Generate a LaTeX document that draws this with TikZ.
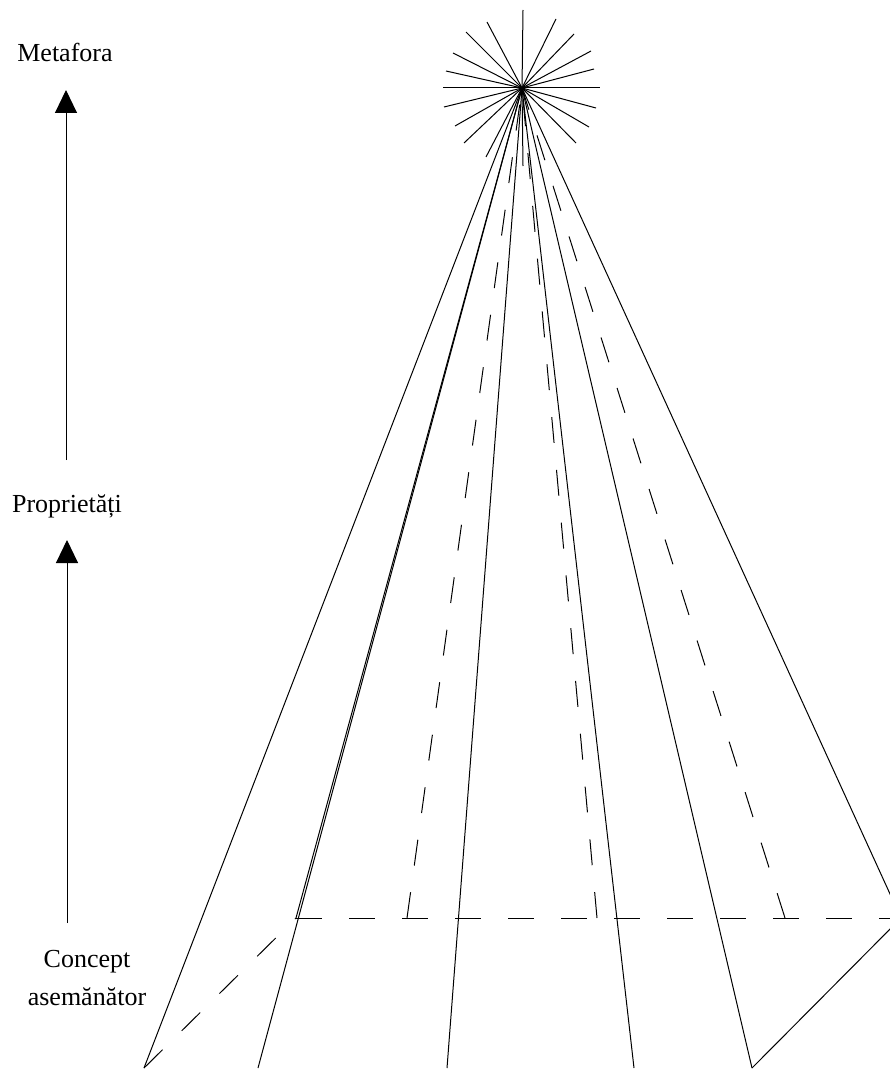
\documentclass[tikz,border=0pt]{standalone}
\usepackage{fontspec}
\setmainfont{Liberation Serif}
\usetikzlibrary{arrows.meta}
\tikzset{
  ln/.style={line width=1pt, black},
  dsh/.style={line width=1pt, black, dash pattern=on 26pt off 27pt},
  lbl/.style={font=\fontsize{26}{30}\selectfont, inner sep=0pt, anchor=base},
  uparrow/.style={line width=1pt, -{Triangle[length=23pt,width=22pt]}}
}
\begin{document}
\begin{tikzpicture}[x=1pt,y=-1pt]
\useasboundingbox (0,0) rectangle (890,1070);
\clip (0,0) rectangle (890,1070);
% key points
\coordinate (apex) at (522,88);
\coordinate (bl) at (144,1068);
\coordinate (cl) at (296,918);
\coordinate (b2) at (258,1068);
\coordinate (b3) at (447,1068);
\coordinate (b4) at (634,1068);
\coordinate (b5) at (752,1068);
\coordinate (cr) at (901,918);
\coordinate (d1) at (407,918);
\coordinate (d2) at (597,918);
\coordinate (d3) at (785,918);
% star
\foreach \p in {(523,10),(487,22),(466,32),(453,53),(446,71),(443,88),(444,107),(455,126),(464,143),(486,157),(523,166),(556,19),(574,34),(591,51),(594,69),(600,88),(596,108),(589,127),(576,143)}
  \draw[ln] (apex) -- \p;
% solid fan lines
\draw[ln] (apex) -- (bl);
\draw[ln] (apex) -- (cl);
\draw[ln] (apex) -- (b2);
\draw[ln] (apex) -- (b3);
\draw[ln] (apex) -- (b4);
\draw[ln] (apex) -- (b5);
\draw[ln] (apex) -- (cr);
\draw[ln] (b5) -- (cr);
% dashed lines
\draw[dsh] (d1) -- (apex);
\draw[dsh] (d2) -- (apex);
\draw[dsh] (d3) -- (apex);
\draw[dsh] (bl) -- (cl);
\draw[dsh] (cl) -- (cr);
% labels
\node[lbl] (metafora) at (65,62) {Metafora};
\node[lbl] (propr) at (67,512) {Proprietăți};
\node[lbl] (concept) at (87,967) {Concept};
\node[lbl] (asem) at (87,1005) {asemănător};
% arrows
\coordinate (a1s) at (66,460);
\coordinate (a1t) at (66,90);
\coordinate (a2s) at (67,923);
\coordinate (a2t) at (67,540);
\draw[uparrow] (a1s) -- (a1t);
\draw[uparrow] (a2s) -- (a2t);
\end{tikzpicture}
\end{document}
